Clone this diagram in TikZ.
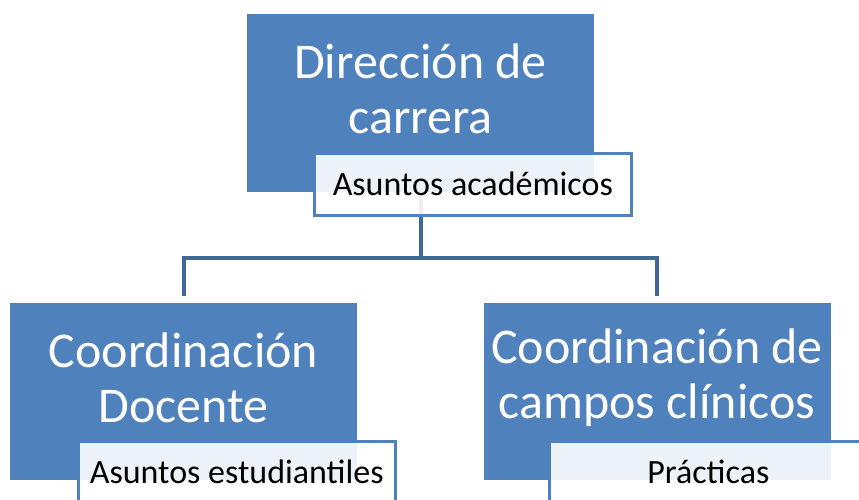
\documentclass[tikz,border=0pt]{standalone}
\usepackage{fontspec}
\setmainfont{Carlito}
\usetikzlibrary{positioning}
\definecolor{boxblue}{RGB}{79,129,189}
\definecolor{linkblue}{RGB}{64,104,150}
\tikzset{
    unitbox/.style={
           rectangle,
           fill=boxblue,
           minimum width=347pt,
           minimum height=177pt,
           inner sep=0pt,
           },
}
\tikzset{
    headtext/.style={
           text=white,
           font=\fontsize{50}{55}\selectfont,
           align=center,
           inner sep=0pt,
           },
}
\tikzset{
    tagbox/.style={
           rectangle,
           draw=boxblue, line width=3pt,
           fill=white, fill opacity=0.9, text opacity=1,
           minimum width=317pt,
           minimum height=62pt,
           inner sep=0pt,
           font=\fontsize{34}{40}\selectfont,
           },
}
\tikzset{
    link/.style={
           draw=linkblue, line width=4pt,
           },
}

\begin{document}
\begin{tikzpicture}[x=1pt,y=1pt]
\clip (0,0) rectangle (859,499);
\node[unitbox](dir) at (420.5,396){};
\node[unitbox](doc) at (183.5,108){};
\node[unitbox](cli) at (657,108){};
\node[headtext](dirtext) at ([yshift=14pt]dir.center){Dirección de\\carrera};
\node[headtext](doctext) at ([yshift=13pt]doc.center){Coordinación\\Docente};
\node[headtext](clitext) at ([yshift=13pt]cli.center){Coordinación de\\campos clínicos};
\draw[link] (dir.south) -- ++(0,-66) coordinate (fork);
\draw[link] (fork) -| ([yshift=6pt]doc.north);
\draw[link] (fork) -| ([yshift=6pt]cli.north);
\node[tagbox,below right=-40pt and 66pt of dir.south west](dirtag){Asuntos académicos};
\node[tagbox,below right=-40pt and 67pt of doc.south west](doctag){Asuntos estudiantiles};
\node[tagbox,below right=-40pt and 65pt of cli.south west](clitag){Prácticas};
\end{tikzpicture}
\end{document}
